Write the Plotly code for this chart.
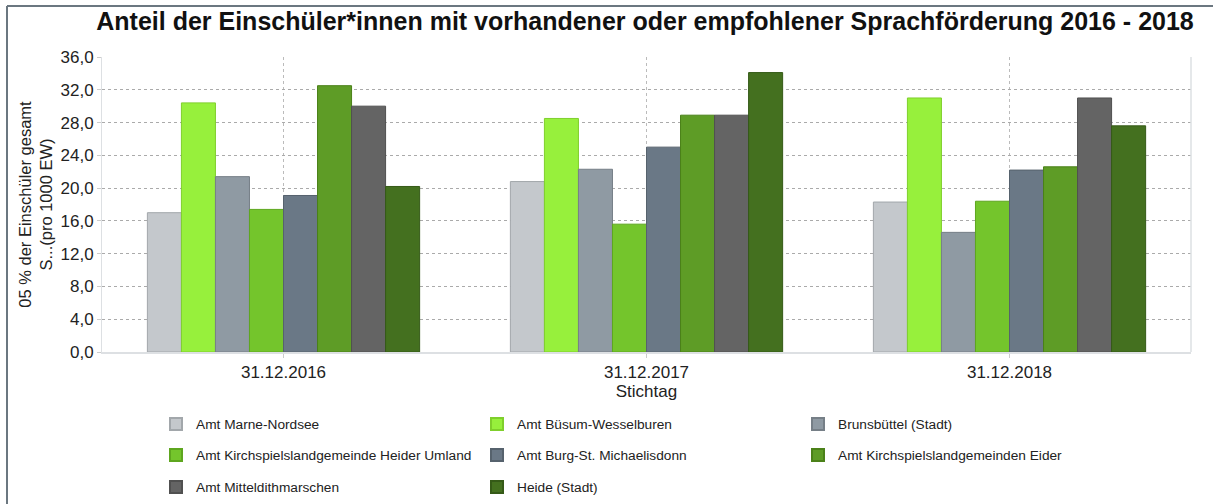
import plotly.graph_objects as go

categories = ["31.12.2016", "31.12.2017", "31.12.2018"]
series_names = [
    "Amt Marne-Nordsee",
    "Amt Büsum-Wesselburen",
    "Brunsbüttel (Stadt)",
    "Amt Kirchspielslandgemeinde Heider Umland",
    "Amt Burg-St. Michaelisdonn",
    "Amt Kirchspielslandgemeinden Eider",
    "Amt Mitteldithmarschen",
    "Heide (Stadt)",
]
marne = [17.0, 20.8, 18.3]
buesum = [30.4, 28.5, 31.0]
brunsbuettel = [21.4, 22.3, 14.6]
heider_umland = [17.4, 15.6, 18.4]
burg = [19.1, 25.0, 22.2]
eider = [32.5, 28.9, 22.6]
mitteldith = [30.0, 28.9, 31.0]
heide = [20.2, 34.1, 27.6]
series_values = [marne, buesum, brunsbuettel, heider_umland, burg, eider, mitteldith, heide]
fill_colors = ["#c4c8cc", "#97f03c", "#8f9aa3", "#74c52c", "#6a7886", "#5e9c26", "#646464", "#44701f"]
line_colors = ["#a2a7ab", "#7fcf2c", "#767f87", "#5ea61f", "#56626d", "#4b8119", "#505050", "#355a17"]
legend_rows = ["legend", "legend", "legend", "legend2", "legend2", "legend2", "legend3", "legend3"]
y_ticks = [0, 4, 8, 12, 16, 20, 24, 28, 32, 36]
y_tick_labels = ["0,0", "4,0", "8,0", "12,0", "16,0", "20,0", "24,0", "28,0", "32,0", "36,0"]

fig = go.Figure()
for name, vals, fc, lc, lg in zip(series_names, series_values, fill_colors, line_colors, legend_rows):
    fig.add_trace(go.Bar(
        x=categories, y=vals, name=name, legend=lg,
        marker=dict(color=fc, line=dict(color=lc, width=1)),
    ))

W, H = 1213, 504
ml, mr, mt, mb = 102, 22, 57, 152
pw, ph = W - ml - mr, H - mt - mb

def px_x(p):
    return (p - ml) / pw

def px_y(p):
    return (H - mb - p) / ph

FONT = "Liberation Sans, Arial, sans-serif"

def legend_row(py):
    return dict(
        orientation="h", x=px_x(156), xanchor="left", y=px_y(py), yanchor="middle",
        entrywidth=276, entrywidthmode="pixels",
        font=dict(size=13.7, color="#222222", family=FONT),
        itemsizing="constant", traceorder="normal", bgcolor="rgba(0,0,0,0)",
    )

fig.update_layout(
    width=W, height=H,
    margin=dict(l=ml, r=mr, t=mt, b=mb, autoexpand=False),
    paper_bgcolor="white", plot_bgcolor="white",
    font=dict(family=FONT, color="#222222"),
    barmode="group", bargap=0.25, bargroupgap=0,
    title=dict(
        text="<b>Anteil der Einschüler*innen mit vorhandener oder empfohlener Sprachförderung 2016 - 2018</b>",
        xref="container", x=645 / W, xanchor="center",
        yref="container", y=1 - 21 / H, yanchor="middle",
        font=dict(size=25, color="#111111", family=FONT),
    ),
    showlegend=True,
    legend=legend_row(424),
    legend2=legend_row(455),
    legend3=legend_row(487),
    xaxis=dict(
        showgrid=True, gridcolor="#bbbbbb", griddash="dot", gridwidth=1,
        showline=True, linecolor="#dde0e3", linewidth=2,
        ticks="outside", ticklen=4, tickcolor="#cccccc",
        tickfont=dict(size=17), automargin=False,
        title=dict(text="Stichtag", font=dict(size=17), standoff=2),
    ),
    yaxis=dict(
        range=[0, 36], tickvals=y_ticks, ticktext=y_tick_labels,
        showgrid=True, gridcolor="#aaaaaa", griddash="dot", gridwidth=1,
        showline=True, linecolor="#dde0e3", linewidth=1,
        ticks="outside", ticklen=4, tickcolor="#cccccc",
        tickfont=dict(size=17), zeroline=False, automargin=False,
        title=dict(text="05 % der Einschüler gesamt<br>S...(pro 1000 EW)", font=dict(size=16.5), standoff=3),
    ),
)

# right border of plot area
fig.add_shape(type="line", xref="paper", yref="paper", x0=1, x1=1, y0=0, y1=1,
              line=dict(color="#dde0e3", width=1.5))
# outer frame (top and left)
fig.add_shape(type="line", xref="paper", yref="paper", x0=px_x(7), x1=px_x(1213), y0=px_y(6), y1=px_y(6),
              line=dict(color="#6b7780", width=2))
fig.add_shape(type="line", xref="paper", yref="paper", x0=px_x(7), x1=px_x(7), y0=px_y(6), y1=px_y(504),
              line=dict(color="#6b7780", width=2))

fig.write_html(
    "out.html",
    config={"displayModeBar": False},
    post_script="document.body.style.margin='0';document.body.style.overflow='hidden';",
)
